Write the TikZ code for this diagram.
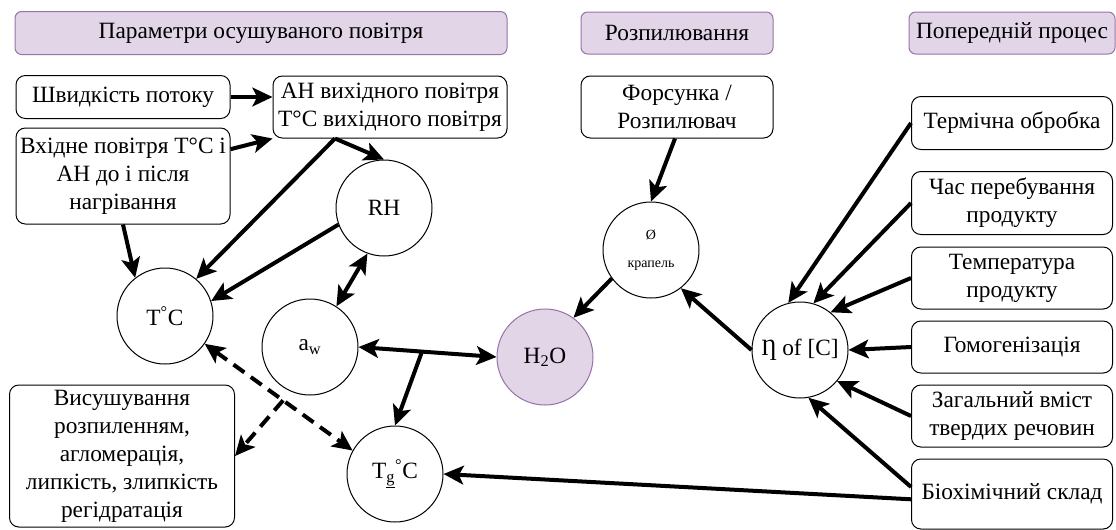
\documentclass[tikz,border=0pt]{standalone}
\usepackage{fontspec}
\setmainfont{Liberation Serif}
\usetikzlibrary{arrows.meta,calc}
\definecolor{hdrfill}{HTML}{E1D5E7}
\definecolor{hdrdraw}{HTML}{9673A6}
\newcommand{\boxfont}{\fontsize{17.5}{21}\selectfont}

\begin{document}
\begin{tikzpicture}[x=0.75pt,y=-0.75pt]
\tikzstyle{hdr}=[rectangle, rounded corners=5pt, draw=hdrdraw, fill=hdrfill, line width=0.75pt, inner sep=0pt, font=\boxfont]
\tikzstyle{box}=[rectangle, rounded corners=7pt, draw, line width=0.75pt, align=center, inner sep=0pt, font=\boxfont]
\tikzstyle{var}=[circle, draw, line width=0.75pt, minimum size=72pt, inner sep=0pt, align=center, font=\boxfont]
\tikzstyle{link}=[line width=3pt, -{Stealth[length=15pt,width=14pt,inset=3.5pt]}]
\tikzstyle{both}=[link, {Stealth[length=15pt,width=14pt,inset=3.5pt]}-{Stealth[length=15pt,width=14pt,inset=3.5pt]}]
\useasboundingbox (0,0) rectangle (1116,529);

% headers
\node[hdr, minimum width=369pt, minimum height=32.25pt] (airhdr) at (261,33) {Параметри осушуваного повітря};
\node[hdr, minimum width=144pt, minimum height=31.5pt] (sprayhdr) at (677,33) {Розпилювання};
\node[hdr, minimum width=154.5pt, minimum height=31.5pt] (prehdr) at (1012,33) {Попередній процес};

% air side
\node[box, minimum width=160.5pt, minimum height=32.25pt] (speed) at (123,97) {Швидкість потоку};
\node[box, minimum width=160.5pt, minimum height=72pt] (inair) at (123,176) {Вхідне повітря T°C і\\АН до і після\\нагрівання};
\node[box, minimum width=175.5pt, minimum height=46.5pt] (outair) at (390,107) {АН вихідного повітря\\T°C вихідного повітря};
\node[box, minimum width=168.75pt, minimum height=106.5pt] (drying) at (122,456) {Висушування\\розпиленням,\\агломерація,\\липкість, злипкість\\регідратація};

% spray side
\node[box, minimum width=144pt, minimum height=46.5pt] (nozzle) at (677,107) {Форсунка /\\Розпилювач};

% pre-process side
\node[box, minimum width=150.75pt, minimum height=39.75pt] (heat) at (1012,123) {Термічна обробка};
\node[box, minimum width=150.75pt, minimum height=47.25pt] (stay) at (1012,203) {Час перебування\\продукту};
\node[box, minimum width=150.75pt, minimum height=46.5pt] (prodtemp) at (1012,278) {Температура\\продукту};
\node[box, minimum width=150.75pt, minimum height=39pt] (homog) at (1012,347) {Гомогенізація};
\node[box, minimum width=150.75pt, minimum height=46.5pt] (solids) at (1012,416) {Загальний вміст\\твердих речовин};
\node[box, minimum width=150.75pt, minimum height=52.5pt] (biochem) at (1012,494) {Біохімічний склад};

% variables
\node[var] (rh) at (384,208) {RH};
\node[var] (temp) at (165,316) {T\textsuperscript{°}C};
\node[var] (aw) at (310,347) {a\textsubscript{w}};
\node[var, fill=hdrfill, draw=hdrdraw] (water) at (545,357) {H\textsubscript{2}O};
\node[var] (tg) at (395,474) {T\textsubscript{\underline{g}}\textsuperscript{°}C};
\node[var, font=\fontsize{10.5}{13}\selectfont] (drop) at (651,250) {Ø\\[8pt]крапель};
\node[var] (visc) at (800,350) {Ƞ of [C]};

% helper points
\coordinate (oa) at ([xshift=-41.25pt]outair.south);
\coordinate (jn) at ($(aw.east)!0.46!(water.west)$);
\coordinate (dj) at ($(temp.-35)!0.53!(tg.151)$);

% connectors
\draw[link] (speed.east) -- (speed.east -| outair.west);
\draw[link] (inair.14) -- (outair.south west);
\draw[link] (inair.south) -- (temp.128);
\draw[link] (oa) -- (temp.50);
\draw[link] (oa) -- (rh.north);
\draw[link] (rh.200) -- (temp.18);
\draw[both] (rh.250) -- (aw.57);
\draw[both] (aw.east) -- (water.west);
\draw[link] (jn) -- (tg.north);
\draw[both, dash pattern=on 10pt off 6pt] (temp.-35) -- (tg.151);
\draw[link, dash pattern=on 10pt off 6pt] (dj) -- (drying.east);
\draw[link] (nozzle.south) ++(-1.5pt,0) -- (drop.north);
\draw[link] (drop.216) -- (water.54);
\draw[link] (visc.west) -- (drop.-52);
\draw[link] (heat.west) -- (visc.104);
\draw[link] (stay.west) -- (visc.74);
\draw[link] (prodtemp.west) -- (visc.51);
\draw[link] (homog.west) -- (visc.east);
\draw[link] (solids.west) -- (visc.-40);
\draw[link] (biochem.176) -- (visc.-80);
\draw[link] (biochem.183) -- (tg.east);
\end{tikzpicture}
\end{document}
